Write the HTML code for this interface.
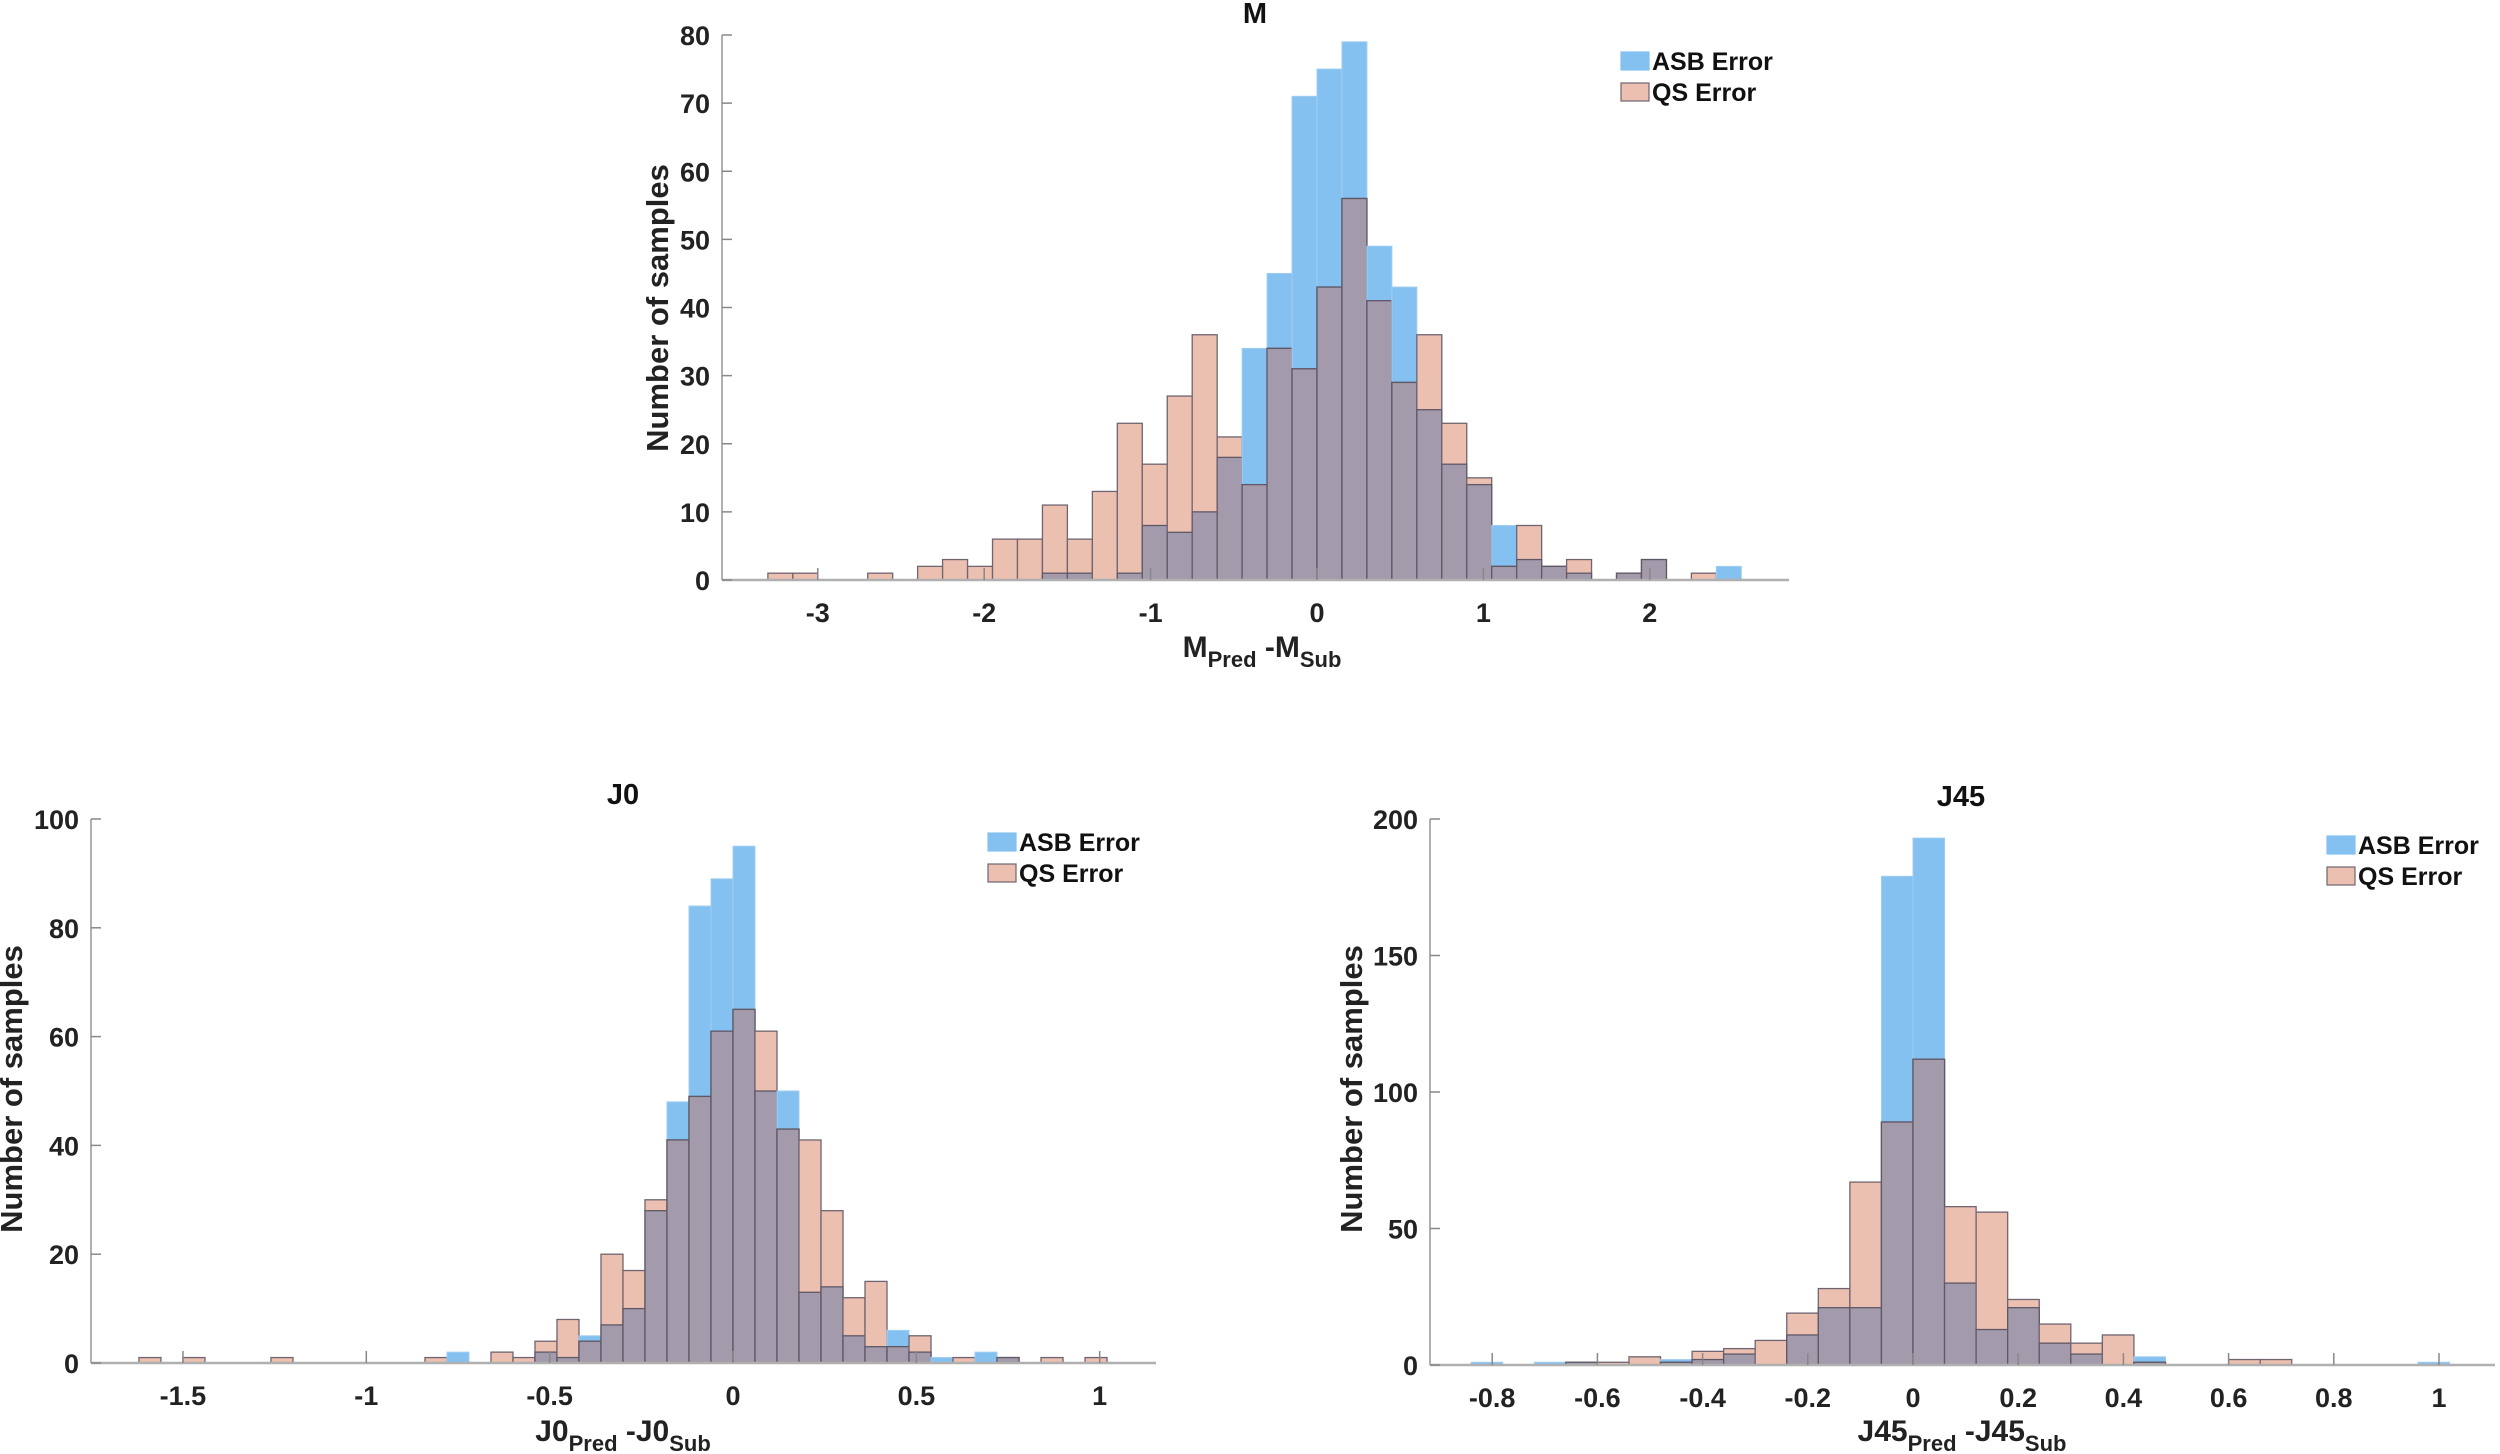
<!DOCTYPE html>
<html><head><meta charset="utf-8"><style>
html,body{margin:0;padding:0;background:#fff;}
svg{display:block;font-family:"Liberation Sans Narrow","Liberation Sans",sans-serif;font-weight:bold;}
</style></head>
<body>
<svg id="fig" width="2500" height="1454" viewBox="0 0 2500 1454" xmlns="http://www.w3.org/2000/svg"></svg>
<script>
// ---- Data: M panel ----
const mBinStart = -3.3;
const mBinWidth = 0.15;
const mASB = [0,0,0,0,0,0,0,0,0,0,0,1,1,0,1,8,7,10,18,34,45,71,75,79,49,43,25,17,14,8,3,2,1,0,1,3,0,0,2];
const mQS  = [1,1,0,0,1,0,2,3,2,6,6,11,6,13,23,17,27,36,21,14,34,31,43,56,41,29,36,23,15,2,8,2,3,0,1,3,0,1,0];
const mXTicks = [-3,-2,-1,0,1,2];
const mYTicks = [0,10,20,30,40,50,60,70,80];
// ---- Data: J0 panel ----
const j0BinStart = -1.62;
const j0BinWidth = 0.06;
const j0ASB = [0,0,0,0,0,0,0,0,0,0,0,0,0,0,2,0,0,0,2,1,5,7,10,28,48,84,89,95,50,50,13,14,5,3,6,2,1,0,2,1,0,0,0,0];
const j0QS  = [1,0,1,0,0,0,1,0,0,0,0,0,0,1,0,0,2,1,4,8,4,20,17,30,41,49,61,65,61,43,41,28,12,15,3,5,0,1,0,1,0,1,0,1];
const j0XTicks = [-1.5,-1,-0.5,0,0.5,1];
const j0YTicks = [0,20,40,60,80,100];
// ---- Data: J45 panel ----
const j45BinStart = -0.84;
const j45BinWidth = 0.06;
const j45ASB = [1,0,1,1,0,0,2,2,4,0,11,21,21,179,193,30,13,21,8,4,0,3,0,0,0,0,0,0,0,0,1];
const j45QS  = [0,0,0,1,1,3,1,5,6,9,19,28,67,89,112,58,56,24,15,8,11,1,0,0,2,2,0,0,0,0,0];
const j45XTicks = [-0.8,-0.6,-0.4,-0.2,0,0.2,0.4,0.6,0.8,1];
const j45YTicks = [0,50,100,150,200];

const NS = "http://www.w3.org/2000/svg";
const svg = document.getElementById('fig');
function mk(tag, attrs, parent){
  const e = document.createElementNS(NS, tag);
  for (const k in attrs) e.setAttribute(k, attrs[k]);
  (parent||svg).appendChild(e);
  return e;
}

function panel(cfg){
  const g = mk('g', {});
  
  
  const xs = v => cfg.x0 + v * cfg.unit;
  const ys = v => cfg.base - v / cfg.yMax * (cfg.base - cfg.top);
  const n = cfg.asb.length;
  for (let i = 0; i < n; i++){
    const l = xs(cfg.start + i * cfg.bw), r = xs(cfg.start + (i+1) * cfg.bw);
    const a = cfg.asb[i], q = cfg.qs[i], o = Math.min(a, q);
    if (a > 0){
      const b = mk('rect', {x:l, y:ys(a), width:r-l, height:ys(0)-ys(a), fill:'#84c1f1', stroke:'#9fcdf0', 'stroke-width':1}, g);
      
      
    }
    if (q > 0){
      const b = mk('rect', {x:l, y:ys(q), width:r-l, height:ys(0)-ys(q), fill:'#ecc0b1', stroke:'#6f6470', 'stroke-width':1.3}, g);
      
      
    }
    if (o > 0){
      const b = mk('rect', {x:l, y:ys(o), width:r-l, height:ys(0)-ys(o), fill:'#a39bab', stroke:'#5f5866', 'stroke-width':1.3}, g);
      
      
    }
  }
  const ax = mk('line', {x1:cfg.left, y1:cfg.base, x2:cfg.right, y2:cfg.base, stroke:'#b0b0b0', 'stroke-width':2.5}, g);
  
  
  const ay = mk('line', {x1:cfg.left, y1:cfg.top, x2:cfg.left, y2:cfg.base, stroke:'#b0b0b0', 'stroke-width':2}, g);
  
  
  cfg.xt.forEach(v => {
    mk('line', {x1:xs(v), y1:cfg.base, x2:xs(v), y2:cfg.base-12, stroke:'#888', 'stroke-width':1.5}, g);
    const t = mk('text', {x:xs(v), y:cfg.base+42, 'text-anchor':'middle', 'font-size':27, fill:'#222'}, g);
    t.textContent = String(v);
    
    
  });
  cfg.yt.forEach(v => {
    mk('line', {x1:cfg.left, y1:ys(v), x2:cfg.left+10, y2:ys(v), stroke:'#888', 'stroke-width':1.5}, g);
    const t = mk('text', {x:cfg.left-12, y:ys(v)+10, 'text-anchor':'end', 'font-size':27, fill:'#222'}, g);
    t.textContent = String(v);
    
    
  });
  const tt = mk('text', {x:cfg.tx, y:cfg.ty, 'text-anchor':'middle', 'font-size':29, fill:'#111'}, g);
  tt.textContent = cfg.title;
  
  
  const yl = mk('text', {x:0, y:0, 'text-anchor':'middle', 'font-size':31, fill:'#222', transform:`translate(${cfg.ylx},${cfg.yly}) rotate(-90)`, style:'font-family:"Liberation Sans",sans-serif'}, g);
  yl.textContent = 'Number of samples';
  
  
  const xl = mk('text', {x:cfg.xlx, y:cfg.xly, 'text-anchor':'middle', 'font-size':30, fill:'#222'}, g);
  
  
  const s1 = mk('tspan', {}, xl); s1.textContent = cfg.sym;
  const s2 = mk('tspan', {dy:10, 'font-size':22}, xl); s2.textContent = 'Pred';
  const s3 = mk('tspan', {dy:-10}, xl); s3.textContent = ' -' + cfg.sym;
  const s4 = mk('tspan', {dy:10, 'font-size':22}, xl); s4.textContent = 'Sub';
  const lg = mk('g', {}, g);
  
  
  [['ASB Error','#84c1f1','#84c1f1'],['QS Error','#ecc0b1','#6f6470']].forEach((e,k) => {
    const cy = cfg.ly + k*31;
    const r = mk('rect', {x:cfg.lx, y:cy-9, width:28, height:18, fill:e[1], stroke:e[2], 'stroke-width':1.2}, lg);
    
    
    const t = mk('text', {x:cfg.lx+31, y:cy+9, 'font-size':25, fill:'#111'}, lg);
    t.textContent = e[0];
    
    
  });
}

panel({name:'m', asb:mASB, qs:mQS, start:mBinStart, bw:mBinWidth, xt:mXTicks, yt:mYTicks, yMax:80,
  left:722, right:1789, base:580, top:35, x0:1317, unit:166.4,
  title:'M', tx:1255, ty:23, ylx:668, yly:308, xlx:1262, xly:657, sym:'M', lx:1621, ly:61});
panel({name:'j0', asb:j0ASB, qs:j0QS, start:j0BinStart, bw:j0BinWidth, xt:j0XTicks, yt:j0YTicks, yMax:100,
  left:91, right:1156, base:1363, top:819, x0:733, unit:366.7,
  title:'J0', tx:623, ty:804, ylx:22, yly:1089, xlx:623, xly:1441, sym:'J0', lx:988, ly:842});
panel({name:'j45', asb:j45ASB, qs:j45QS, start:j45BinStart, bw:j45BinWidth, xt:j45XTicks, yt:j45YTicks, yMax:200,
  left:1430, right:2495, base:1365, top:819, x0:1913, unit:526,
  title:'J45', tx:1961, ty:806, ylx:1362, yly:1089, xlx:1962, xly:1441, sym:'J45', lx:2327, ly:845});
</script>
</body></html>
